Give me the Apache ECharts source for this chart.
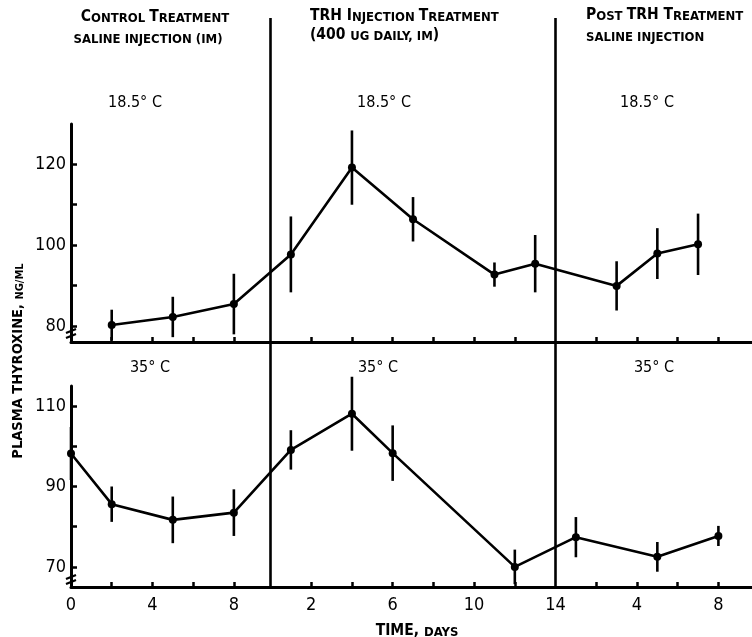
<!DOCTYPE html>
<html>
<head>
<meta charset="utf-8">
<script src="https://cdn.jsdelivr.net/npm/echarts@6/dist/echarts.min.js"></script>
<style>
html,body{margin:0;padding:0;background:#fff;}
#chart{width:752px;height:637px;}
</style>
</head>
<body>
<div id="chart"></div>
<script>
// ---- phase offsets on the continuous time axis (days) ----
const TRH_START = 9.8;
const POST_START = 23.8;
const X_MAX = 33.45;

// ---- top panel: 18.5 C ----
const topControlDays = [2, 5, 8];
const topControlMean = [80.2, 82.2, 85.4];
const topControlErr  = [3.8, 5.0, 7.5];
const topTrhDays = [1, 4, 7, 11, 13];
const topTrhMean = [97.7, 119.2, 106.4, 92.7, 95.4];
const topTrhErr  = [9.4, 9.2, 5.5, 3.0, 7.1];
const topPostDays = [3, 5, 7];
const topPostMean = [89.9, 97.9, 100.2];
const topPostErr  = [6.1, 6.3, 7.6];

// ---- bottom panel: 35 C ----
const botControlDays = [0, 2, 5, 8];
const botControlMean = [98.2, 85.6, 81.7, 83.5];
const botControlErr  = [6.6, 4.4, 5.8, 5.8];
const botTrhDays = [1, 4, 6, 12];
const botTrhMean = [99.1, 108.1, 98.3, 70.0];
const botTrhErr  = [4.9, 9.2, 6.9, 4.3];
const botPostDays = [1, 5, 8];
const botPostMean = [77.4, 72.5, 77.7];
const botPostErr  = [5.0, 3.7, 2.5];

// ---- axis ticks / labels ----
const controlTickDays = [2, 4, 6, 8];
const trhTickDays = [2, 4, 6, 8, 10, 12];
const postTickDays = [2, 4, 6, 8];
const controlLabelDays = [0, 4, 8];
const trhLabelDays = [2, 6, 10, 14];
const postLabelDays = [4, 8];
const topYTicks = [80, 90, 100, 110, 120];
const topYLabels = [80, 100, 120];
const botYTicks = [70, 80, 90, 100, 110];
const botYLabels = [70, 90, 110];

const FONT = "'DejaVu Sans Condensed','Liberation Sans Narrow',sans-serif";

function toGlobal(days, offset){ return days.map(d => d + offset); }
function buildPoints(cd, cm, td, tm, pd, pm){
  const pts = [];
  cd.forEach((d,i)=>pts.push([d, cm[i]]));
  td.forEach((d,i)=>pts.push([d + TRH_START, tm[i]]));
  pd.forEach((d,i)=>pts.push([d + POST_START, pm[i]]));
  return pts;
}
function buildErr(cd, cm, ce, td, tm, te, pd, pm, pe){
  const out = [];
  cd.forEach((d,i)=>out.push([d, cm[i]-ce[i], cm[i]+ce[i]]));
  td.forEach((d,i)=>out.push([d + TRH_START, tm[i]-te[i], tm[i]+te[i]]));
  pd.forEach((d,i)=>out.push([d + POST_START, pm[i]-pe[i], pm[i]+pe[i]]));
  return out;
}
const topPts = buildPoints(topControlDays, topControlMean, topTrhDays, topTrhMean, topPostDays, topPostMean);
const botPts = buildPoints(botControlDays, botControlMean, botTrhDays, botTrhMean, botPostDays, botPostMean);
const topErr = buildErr(topControlDays, topControlMean, topControlErr, topTrhDays, topTrhMean, topTrhErr, topPostDays, topPostMean, topPostErr);
const botErr = buildErr(botControlDays, botControlMean, botControlErr, botTrhDays, botTrhMean, botTrhErr, botPostDays, botPostMean, botPostErr);

const xTickValues = [].concat(toGlobal(controlTickDays,0), toGlobal(trhTickDays,TRH_START), toGlobal(postTickDays,POST_START));
const xLabelEntries = [].concat(
  controlLabelDays.map(d=>({pos:d, text:String(d)})),
  trhLabelDays.map(d=>({pos:d+TRH_START, text:String(d)})),
  postLabelDays.map(d=>({pos:d+POST_START, text:String(d)}))
);
const xLabelValues = xLabelEntries.map(e=>e.pos);
function xLabelFmt(v){
  const e = xLabelEntries.find(e=>Math.abs(e.pos - v) < 1e-6);
  return e ? e.text : '';
}

function errRender(params, api){
  const x = api.value(0);
  const p1 = api.coord([x, api.value(1)]);
  const p2 = api.coord([x, api.value(2)]);
  return {type:'line', shape:{x1:p1[0], y1:p1[1], x2:p2[0], y2:p2[1]}, style:{stroke:'#000', lineWidth:2.6}};
}

const axisLineStyle = {color:'#000', width:3};
function xAxisDef(gridIndex, withLabels){
  return {
    type:'value', gridIndex, min:0, max:X_MAX,
    axisLine:{show:true, lineStyle:axisLineStyle, onZero:false},
    axisTick:{show:true, inside:true, length:5, lineStyle:{color:'#000', width:2.5}, customValues:xTickValues},
    axisLabel: withLabels ? {show:true, customValues:xLabelValues, formatter:xLabelFmt, color:'#000', fontFamily:FONT, fontSize:18, margin:9} : {show:false},
    splitLine:{show:false}
  };
}
function yAxisDef(gridIndex, min, max, ticks, labels){
  return {
    type:'value', gridIndex, min, max,
    axisLine:{show:true, lineStyle:axisLineStyle, onZero:false},
    axisTick:{show:true, inside:true, length:6, lineStyle:{color:'#000', width:2.5}, customValues:ticks},
    axisLabel:{show:true, customValues:labels, color:'#000', fontFamily:FONT, fontSize:18, margin:5},
    splitLine:{show:false}
  };
}

const B = {fontFamily:FONT, fontSize:15.5, fontWeight:'bold', color:'#000', verticalAlign:'bottom'};
const S = {fontFamily:FONT, fontSize:13, fontWeight:'bold', color:'#000', verticalAlign:'bottom'};
const BY = {fontFamily:FONT, fontSize:14.5, fontWeight:'bold', color:'#000', verticalAlign:'bottom'};
const SY = {fontFamily:FONT, fontSize:11, fontWeight:'bold', color:'#000', verticalAlign:'bottom'};
function rtext(x, y, str, align, rotation){
  return {type:'text', x, y, rotation: rotation||0,
    style:{text:str, rich:{B, S, BY, SY}, align: align||'center', verticalAlign:'middle', fontFamily:FONT}};
}
function ptext(x, y, str){
  return {type:'text', x, y, style:{text:str, fontFamily:FONT, fontSize:16, fill:'#000', align:'center', verticalAlign:'middle'}};
}
function breakMark(x, y){
  return {type:'group', children:[
    {type:'line', shape:{x1:x-5, y1:y+1, x2:x+5, y2:y-3}, style:{stroke:'#000', lineWidth:2.2}},
    {type:'line', shape:{x1:x-5, y1:y+6, x2:x+5, y2:y+2}, style:{stroke:'#000', lineWidth:2.2}}
  ]};
}

const chart = echarts.init(document.getElementById('chart'), null, {renderer:'canvas'});
chart.setOption({
  animation:false,
  backgroundColor:'#fff',
  grid:[
    {left:71, right:0, top:124, height:218},
    {left:71, right:0, top:386, height:201},
    {left:71, right:0, top:18, height:570}
  ],
  xAxis:[xAxisDef(0,false), xAxisDef(1,true), {type:'value', gridIndex:2, min:0, max:X_MAX, show:false}],
  yAxis:[yAxisDef(0,76,130,topYTicks,topYLabels), yAxisDef(1,65,115,botYTicks,botYLabels), {type:'value', gridIndex:2, min:0, max:1, show:false}],
  series:[
    {type:'custom', xAxisIndex:0, yAxisIndex:0, renderItem:errRender, data:topErr, z:3},
    {type:'line', xAxisIndex:0, yAxisIndex:0, data:topPts, symbol:'circle', symbolSize:8,
      lineStyle:{color:'#000', width:2.6}, itemStyle:{color:'#000'}, z:4},
    {type:'custom', xAxisIndex:1, yAxisIndex:1, renderItem:errRender, data:botErr, z:3},
    {type:'line', xAxisIndex:1, yAxisIndex:1, data:botPts, symbol:'circle', symbolSize:8,
      lineStyle:{color:'#000', width:2.6}, itemStyle:{color:'#000'}, z:4},
    {type:'scatter', xAxisIndex:2, yAxisIndex:2, data:[], silent:true,
      markLine:{symbol:'none', silent:true, label:{show:false},
        lineStyle:{color:'#000', width:2.6, type:'solid'},
        data:[{xAxis:TRH_START},{xAxis:POST_START}]}}
  ],
  graphic:[
    rtext(155, 17, '{B|C}{S|ONTROL }{B|T}{S|REATMENT}'),
    rtext(148, 40, '{S|SALINE INJECTION (IM)}'),
    rtext(310, 16, '{B|TRH I}{S|NJECTION }{B|T}{S|REATMENT}', 'left'),
    rtext(310, 35, '{B|(400 }{S|UG DAILY, IM}{B|)}', 'left'),
    rtext(586, 15, '{B|P}{S|OST }{B|TRH T}{S|REATMENT}', 'left'),
    rtext(586, 38, '{S|SALINE INJECTION}', 'left'),
    ptext(135, 103, '18.5° C'),
    ptext(384, 103, '18.5° C'),
    ptext(647, 103, '18.5° C'),
    ptext(150, 368, '35° C'),
    ptext(378, 368, '35° C'),
    ptext(654, 368, '35° C'),
    rtext(417, 631, '{B|TIME, }{S|DAYS}'),
    rtext(18, 361, '{BY|PLASMA THYROXINE, }{SY|NG/ML}', 'center', Math.PI/2),
    breakMark(71, 332),
    breakMark(71, 578)
  ]
});
</script>
</body>
</html>
